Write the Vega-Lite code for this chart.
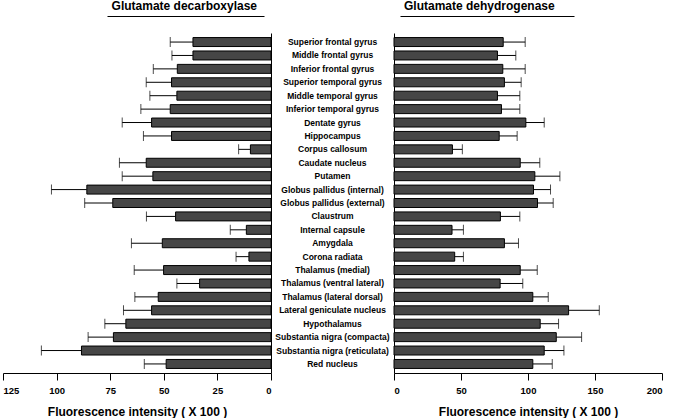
{
  "$schema": "https://vega.github.io/schema/vega-lite/v6.json",
  "padding": {"left": 2, "right": 0, "top": 0, "bottom": 0},
  "background": "white",
  "config": {
    "font": "Liberation Sans",
    "view": {"stroke": null},
    "axis": {"grid": false, "domainColor": "black", "tickColor": "black", "labelColor": "black", "titleColor": "black"},
    "title": {"color": "black"}
  },
  "data": {"values": [
    {"region": "Superior frontal gyrus", "gad": 36.4, "gad_hi": 47.0, "gdh": 81.5, "gdh_hi": 97.9},
    {"region": "Middle frontal gyrus", "gad": 36.4, "gad_hi": 46.2, "gdh": 77.2, "gdh_hi": 90.9},
    {"region": "Inferior frontal gyrus", "gad": 43.7, "gad_hi": 54.9, "gdh": 81.2, "gdh_hi": 97.9},
    {"region": "Superior temporal gyrus", "gad": 46.4, "gad_hi": 58.2, "gdh": 82.4, "gdh_hi": 94.9},
    {"region": "Middle temporal gyrus", "gad": 43.9, "gad_hi": 56.5, "gdh": 77.2, "gdh_hi": 93.9},
    {"region": "Inferior temporal gyrus", "gad": 47.0, "gad_hi": 60.7, "gdh": 80.2, "gdh_hi": 93.9},
    {"region": "Dentate gyrus", "gad": 55.7, "gad_hi": 69.4, "gdh": 98.4, "gdh_hi": 112.1},
    {"region": "Hippocampus", "gad": 46.4, "gad_hi": 59.5, "gdh": 78.5, "gdh_hi": 91.9},
    {"region": "Corpus callosum", "gad": 9.6, "gad_hi": 15.1, "gdh": 43.6, "gdh_hi": 51.0},
    {"region": "Caudate nucleus", "gad": 58.2, "gad_hi": 70.7, "gdh": 94.2, "gdh_hi": 108.8},
    {"region": "Putamen", "gad": 55.1, "gad_hi": 69.4, "gdh": 105.1, "gdh_hi": 123.8},
    {"region": "Globus pallidus (internal)", "gad": 85.9, "gad_hi": 102.4, "gdh": 104.1, "gdh_hi": 116.8},
    {"region": "Globus pallidus (external)", "gad": 73.8, "gad_hi": 86.9, "gdh": 107.1, "gdh_hi": 118.8},
    {"region": "Claustrum", "gad": 44.5, "gad_hi": 58.1, "gdh": 79.4, "gdh_hi": 93.9},
    {"region": "Internal capsule", "gad": 11.5, "gad_hi": 19.0, "gdh": 43.3, "gdh_hi": 51.8},
    {"region": "Amygdala", "gad": 50.7, "gad_hi": 65.1, "gdh": 82.4, "gdh_hi": 92.9},
    {"region": "Corona radiata", "gad": 10.3, "gad_hi": 16.3, "gdh": 45.3, "gdh_hi": 51.8},
    {"region": "Thalamus (medial)", "gad": 50.1, "gad_hi": 63.8, "gdh": 94.2, "gdh_hi": 106.9},
    {"region": "Thalamus (ventral lateral)", "gad": 33.3, "gad_hi": 43.9, "gdh": 79.2, "gdh_hi": 96.1},
    {"region": "Thalamus (lateral dorsal)", "gad": 52.6, "gad_hi": 63.5, "gdh": 103.6, "gdh_hi": 115.1},
    {"region": "Lateral geniculate nucleus", "gad": 55.7, "gad_hi": 68.8, "gdh": 130.3, "gdh_hi": 153.2},
    {"region": "Hypothalamus", "gad": 67.7, "gad_hi": 77.5, "gdh": 109.1, "gdh_hi": 122.8},
    {"region": "Substantia nigra (compacta)", "gad": 73.5, "gad_hi": 85.3, "gdh": 121.1, "gdh_hi": 140.0},
    {"region": "Substantia nigra (reticulata)", "gad": 88.4, "gad_hi": 107.1, "gdh": 112.1, "gdh_hi": 126.8},
    {"region": "Red nucleus", "gad": 48.9, "gad_hi": 59.1, "gdh": 103.6, "gdh_hi": 118.1}
  ]},
  "spacing": 123,
  "bounds": "flush",
  "hconcat": [
    {
      "width": 268,
      "height": 340,
      "title": {"text": "Glutamate decarboxylase", "fontSize": 12, "fontWeight": "bold", "anchor": "end", "frame": "group", "dx": -14, "offset": 3},
      "encoding": {
        "y": {"field": "region", "type": "nominal", "sort": null,
              "scale": {"paddingInner": 0.33, "paddingOuter": 0.34},
              "axis": {"orient": "right", "labels": false, "ticks": false, "title": null}}
      },
      "resolve": {"axis": {"x": "independent"}},
      "layer": [
        {"mark": {"type": "rule", "color": "black", "strokeWidth": 1},
         "encoding": {
           "x": {"field": "gad", "type": "quantitative", "scale": {"domain": [0, 125], "reverse": true, "nice": false},
                 "axis": {"values": [0, 25, 50, 75, 100, 125], "title": "Fluorescence intensity ( X 100 )",
                          "titleFontSize": 12, "titleFontWeight": "bold", "labelFontSize": 9.5, "labelFontWeight": "bold",
                          "tickSize": 7, "labelPadding": 5, "titlePadding": 12}},
           "x2": {"field": "gad_hi"}}},
        {"mark": {"type": "tick", "color": "black", "thickness": 1, "size": 10},
         "encoding": {"x": {"field": "gad_hi", "type": "quantitative",
                            "axis": {"orient": "top", "labels": false, "ticks": false, "title": null, "offset": 17,
                                     "domainWidth": 1.2, "domainDash": [0, 7, 157, 600]}}}},
        {"mark": {"type": "bar", "fill": "#464646", "stroke": "black", "strokeWidth": 1},
         "encoding": {"x": {"field": "gad", "type": "quantitative", "axis": null}}}
      ]
    },
    {
      "width": 268,
      "height": 340,
      "title": {"text": "Glutamate dehydrogenase", "fontSize": 12, "fontWeight": "bold", "anchor": "start", "frame": "group", "dx": 10, "offset": 3},
      "encoding": {
        "y": {"field": "region", "type": "nominal", "sort": null,
              "scale": {"paddingInner": 0.33, "paddingOuter": 0.34},
              "axis": {"orient": "left", "ticks": false, "title": null, "labelAlign": "center", "labelPadding": 62,
                       "labelFontSize": 8.5, "labelFontWeight": "bold", "labelLimit": 200, "labelOverlap": false}}
      },
      "resolve": {"axis": {"x": "independent"}},
      "layer": [
        {"mark": {"type": "rule", "color": "black", "strokeWidth": 1},
         "encoding": {
           "x": {"field": "gdh", "type": "quantitative", "scale": {"domain": [0, 200], "nice": false},
                 "axis": {"values": [0, 50, 100, 150, 200], "title": "Fluorescence intensity ( X 100 )",
                          "titleFontSize": 12, "titleFontWeight": "bold", "labelFontSize": 9.5, "labelFontWeight": "bold",
                          "tickSize": 7, "labelPadding": 5, "titlePadding": 12}},
           "x2": {"field": "gdh_hi"}}},
        {"mark": {"type": "tick", "color": "black", "thickness": 1, "size": 10},
         "encoding": {"x": {"field": "gdh_hi", "type": "quantitative",
                            "axis": {"orient": "top", "labels": false, "ticks": false, "title": null, "offset": 17,
                                     "domainWidth": 1.2, "domainDash": [0, 6, 174, 600]}}}},
        {"mark": {"type": "bar", "fill": "#464646", "stroke": "black", "strokeWidth": 1},
         "encoding": {"x": {"field": "gdh", "type": "quantitative", "axis": null}}}
      ]
    }
  ]
}
